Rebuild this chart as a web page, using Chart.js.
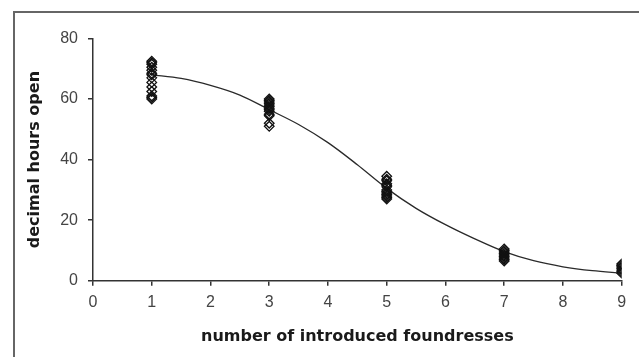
<!DOCTYPE html>
<html>
<head>
<meta charset="utf-8">
<script src="https://cdn.jsdelivr.net/npm/chart.js@4.4.1/dist/chart.umd.min.js"></script>
<style>
  html, body { margin: 0; padding: 0; background: #ffffff; }
  #wrap { position: relative; width: 639px; height: 357px; }
  canvas { display: block; }
</style>
</head>
<body>
<div id="wrap"><canvas id="c" width="639" height="357"></canvas></div>
<script>
// ---- data ----
const foundressCounts = [1, 3, 5, 7, 9];
const hoursAt1 = [72.5, 72, 71.5, 70.5, 69.5, 68.5, 68, 67, 65.5, 64, 62.5, 61, 60.5, 60];
const hoursAt3 = [60, 59.5, 59, 58.5, 58, 57.5, 57, 56.5, 56, 55, 54.5, 52, 51];
const hoursAt5 = [34.5, 33.5, 33, 32, 31.5, 31, 30, 29.5, 29, 28.5, 28, 27.5, 27];
const hoursAt7 = [10.5, 10, 9.5, 9, 8.5, 8, 7.5, 7, 6.5];
const hoursAt9 = [5.5, 5, 4.5, 4, 3.5, 3, 2.5];
const fitX = [1, 1.5, 2, 2.5, 3, 3.5, 4, 4.5, 5, 5.5, 6, 6.5, 7, 7.5, 8, 8.5, 9];
const fitY = [68, 66.8, 64.5, 61.3, 56.5, 51.6, 45.6, 38.3, 30.5, 23.9, 18.5, 13.8, 9.6, 6.6, 4.6, 3.3, 2.5];
const xTicks = [0, 1, 2, 3, 4, 5, 6, 7, 8, 9];
const yTicks = [0, 20, 40, 60, 80];
const xTitle = 'number of introduced foundresses';
const yTitle = 'decimal hours open';

const groups = [hoursAt1, hoursAt3, hoursAt5, hoursAt7, hoursAt9];
const scatterPoints = [];
groups.forEach((vals, i) => vals.forEach(v => scatterPoints.push({ x: foundressCounts[i], y: v })));
const fitPoints = fitX.map((x, i) => ({ x: x, y: fitY[i] }));

const framePlugin = {
  id: 'frame',
  beforeDraw(chart) {
    const ctx = chart.ctx;
    ctx.save();
    ctx.fillStyle = '#ffffff';
    ctx.fillRect(0, 0, chart.width, chart.height);
    ctx.strokeStyle = '#666666';
    ctx.lineWidth = 2;
    ctx.beginPath();
    ctx.moveTo(14, chart.height + 5);
    ctx.lineTo(14, 12);
    ctx.lineTo(chart.width + 5, 12);
    ctx.stroke();
    ctx.restore();
  }
};

const tickFont = 'Liberation Sans, Arial, sans-serif';
const titleFont = 'DejaVu Sans, Verdana, sans-serif';

new Chart(document.getElementById('c'), {
  type: 'scatter',
  data: {
    datasets: [
      {
        label: 'observed',
        data: scatterPoints,
        pointStyle: 'rectRot',
        pointRadius: 4.8,
        pointBorderWidth: 1.3,
        pointBorderColor: '#111111',
        pointBackgroundColor: 'rgba(255,255,255,0)',
        showLine: false,
        order: 1
      },
      {
        label: 'fit',
        data: fitPoints,
        showLine: true,
        pointRadius: 0,
        borderColor: '#2a2a2a',
        borderWidth: 1.3,
        cubicInterpolationMode: 'monotone',
        fill: false,
        order: 2
      }
    ]
  },
  options: {
    responsive: false,
    animation: false,
    events: [],
    layout: { padding: { left: 0, right: 17.3, top: 38.5, bottom: 0 } },
    plugins: {
      legend: { display: false },
      tooltip: { enabled: false }
    },
    scales: {
      x: {
        type: 'linear',
        min: 0,
        max: 9,
        afterBuildTicks(scale) { scale.ticks = xTicks.map(v => ({ value: v })); },
        afterFit(scale) { scale.height = 76.3; },
        ticks: { color: '#444444', font: { family: tickFont, size: 16 }, padding: 7.5, autoSkip: false, maxRotation: 0 },
        grid: { display: true, drawOnChartArea: false, drawTicks: true, tickLength: 5, color: '#333333', lineWidth: 1.5 },
        border: { display: true, color: '#333333', width: 1.5 },
        title: { display: true, text: xTitle, color: '#1a1a1a', font: { family: titleFont, size: 16, weight: 'bold' }, padding: { top: 0, bottom: 10.4 } }
      },
      y: {
        type: 'linear',
        min: 0,
        max: 80,
        afterBuildTicks(scale) { scale.ticks = yTicks.map(v => ({ value: v })); },
        afterFit(scale) { scale.width = 93; },
        ticks: { color: '#444444', font: { family: tickFont, size: 16 }, padding: 10 },
        grid: { display: true, drawOnChartArea: false, drawTicks: true, tickLength: 5, color: '#333333', lineWidth: 1.5 },
        border: { display: true, color: '#333333', width: 1.5 },
        title: { display: true, text: yTitle, color: '#1a1a1a', font: { family: titleFont, size: 16, weight: 'bold' }, padding: { top: 25.4, bottom: 0 } }
      }
    }
  },
  plugins: [framePlugin]
});
</script>
</body>
</html>
